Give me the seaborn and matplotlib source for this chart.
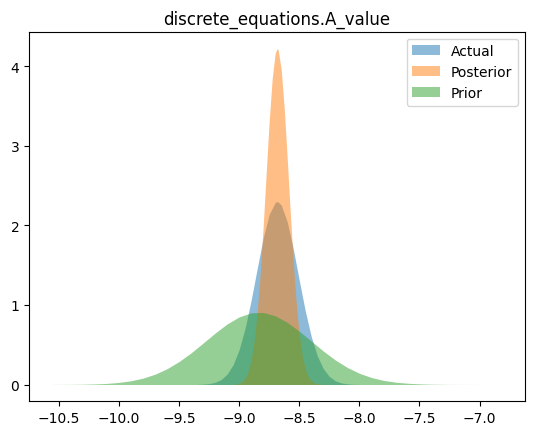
import matplotlib
matplotlib.use("Agg")
import matplotlib.pyplot as plt
import seaborn as sns
import numpy as np

title = "discrete_equations.A_value"
series_names = ["Actual", "Posterior", "Prior"]

# Values (density at given x)
actual_x = [-9.35, -9.30, -9.25, -9.20, -9.15, -9.10, -9.05, -9.00, -8.95, -8.90,
            -8.85, -8.80, -8.75, -8.70, -8.68, -8.65, -8.60, -8.55, -8.50, -8.45,
            -8.40, -8.35, -8.30, -8.25, -8.20, -8.15, -8.10, -8.05, -8.00]
actual_y = [0.0014, 0.0042, 0.0112, 0.0276, 0.0624, 0.130, 0.248, 0.438, 0.710, 1.060,
            1.455, 1.839, 2.139, 2.290, 2.300, 2.256, 2.046, 1.707, 1.311, 0.926,
            0.602, 0.361, 0.199, 0.101, 0.047, 0.0202, 0.0080, 0.0029, 0.0010]

posterior_x = [-9.050, -9.025, -9.000, -8.975, -8.950, -8.925, -8.900, -8.875, -8.850,
               -8.825, -8.800, -8.775, -8.750, -8.725, -8.700, -8.684, -8.675, -8.650,
               -8.625, -8.600, -8.575, -8.550, -8.525, -8.500, -8.475, -8.450, -8.425,
               -8.400, -8.375, -8.350, -8.300]
posterior_y = [0.0023, 0.0062, 0.0156, 0.0365, 0.0797, 0.162, 0.308, 0.545, 0.900,
               1.384, 1.985, 2.654, 3.308, 3.844, 4.164, 4.224, 4.205, 3.959,
               3.475, 2.843, 2.168, 1.543, 1.023, 0.632, 0.364, 0.196, 0.098,
               0.0457, 0.0199, 0.0081, 0.0011]

prior_x = [-10.56, -10.4, -10.3, -10.2, -10.1, -10.0, -9.9, -9.8, -9.7, -9.6, -9.5,
           -9.4, -9.3, -9.2, -9.1, -9.0, -8.9, -8.8, -8.7, -8.6, -8.5, -8.4, -8.3,
           -8.2, -8.1, -8.0, -7.9, -7.8, -7.7, -7.6, -7.5, -7.4, -7.3, -7.2, -7.0, -6.81]
prior_y = [0.0004, 0.0015, 0.0033, 0.0069, 0.0137, 0.026, 0.0468, 0.0797, 0.129, 0.198, 0.288,
           0.397, 0.520, 0.646, 0.761, 0.850, 0.901, 0.906, 0.864, 0.781, 0.670, 0.546, 0.421,
           0.308, 0.214, 0.141, 0.0881, 0.0522, 0.0294, 0.0157, 0.0079, 0.0038, 0.0017, 0.0007, 0.0001, 0.0]

colors = sns.color_palette("tab10", 3)

fig = plt.figure(figsize=(5.34, 4.35), dpi=100)
ax = fig.add_axes([29 / 534, 32.7 / 435, 496 / 534, 369.6 / 435])

for name, xs, ys, c in zip(series_names,
                           [actual_x, posterior_x, prior_x],
                           [actual_y, posterior_y, prior_y],
                           colors):
    ax.fill_between(np.array(xs), np.array(ys), alpha=0.5, color=c, label=name, linewidth=0)

ax.set_title(title)
ax.legend(loc="upper right")
fig.savefig("out.png", dpi=100)
